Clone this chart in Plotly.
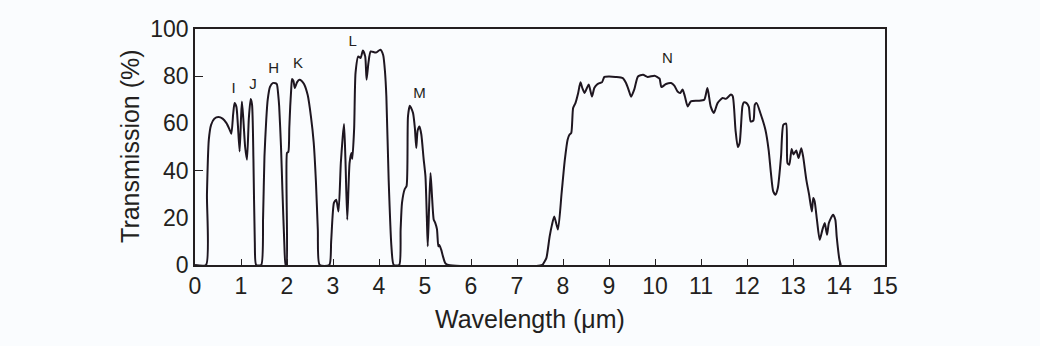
import plotly.graph_objects as go

# Atmospheric transmission spectrum (wavelength in micrometres, transmission in %)
wavelength = [
    0.00, 0.24, 0.26, 0.30, 0.35, 0.42, 0.51, 0.60, 0.68, 0.75, 0.79, 0.83, 0.86, 0.90, 0.93, 0.97,
    1.00, 1.02, 1.05, 1.09, 1.13, 1.17, 1.21, 1.24, 1.27, 1.30, 1.33, 1.44,
    1.48, 1.51, 1.55, 1.58, 1.63, 1.69, 1.75, 1.78, 1.81, 1.83, 1.87, 1.90, 1.94, 1.97,
    1.99, 2.00, 2.03, 2.05, 2.07, 2.09, 2.11, 2.14, 2.17, 2.22, 2.27, 2.32, 2.37, 2.45,
    2.52, 2.58, 2.63, 2.67, 2.71, 2.92,
    2.96, 3.02, 3.07, 3.12, 3.17, 3.21, 3.24, 3.27, 3.31, 3.36, 3.40, 3.42, 3.46, 3.49,
    3.55, 3.60, 3.65, 3.70, 3.73, 3.77, 3.82, 3.93, 4.03, 4.09, 4.13, 4.16, 4.21, 4.27, 4.32, 4.44,
    4.47, 4.50, 4.56, 4.60, 4.63, 4.67, 4.70, 4.74, 4.78, 4.81, 4.84, 4.88, 4.92, 4.97, 5.01, 5.04,
    5.06, 5.09, 5.12, 5.15, 5.19, 5.22, 5.26, 5.29, 5.31, 5.35, 5.40, 5.44, 5.51,
    7.55, 7.60, 7.64, 7.71, 7.76, 7.81, 7.89, 7.97, 8.04, 8.10, 8.14, 8.18, 8.22, 8.27, 8.33, 8.38,
    8.42, 8.47, 8.52, 8.56, 8.63, 8.68, 8.74, 8.80, 8.85, 8.90, 9.00, 9.14, 9.30, 9.37, 9.43, 9.48,
    9.55, 9.63, 9.74, 9.84, 9.99, 10.06, 10.10, 10.14, 10.24, 10.35, 10.42, 10.49, 10.55, 10.60,
    10.65, 10.71, 10.78, 10.93, 11.07, 11.14, 11.21, 11.28, 11.36, 11.47, 11.54, 11.65, 11.69,
    11.75, 11.80, 11.84, 11.90, 11.93, 11.99, 12.04, 12.08, 12.14, 12.17, 12.21, 12.29, 12.40,
    12.47, 12.52, 12.57, 12.62, 12.67, 12.74, 12.79, 12.85, 12.88, 12.92, 12.97, 13.01, 13.07,
    13.12, 13.18, 13.22, 13.29, 13.35, 13.41, 13.44, 13.47, 13.52, 13.58, 13.64, 13.69, 13.74,
    13.78, 13.87, 13.92, 13.95, 14.01, 14.04,
]
transmission = [
    0.0, 0.0, 30.0, 53.0, 59.4, 62.0, 62.7, 62.0, 60.2, 57.5, 55.6, 64.0, 68.6, 67.0, 60.0, 48.1,
    62.0, 69.3, 62.0, 50.0, 44.6, 62.0, 70.3, 68.0, 45.0, 10.0, 0.0, 0.0,
    20.0, 46.0, 62.0, 70.0, 75.5, 77.1, 77.0, 76.6, 72.0, 67.2, 50.0, 31.9, 10.0, 0.0,
    0.0, 47.5, 48.0, 58.0, 67.2, 74.0, 78.8, 78.0, 75.0, 77.5, 78.5, 78.0, 76.7, 72.0,
    63.0, 52.0, 34.8, 15.0, 0.0, 0.0,
    10.0, 26.3, 27.7, 22.7, 43.2, 54.0, 59.7, 45.0, 19.2, 43.2, 47.5, 45.0, 58.0, 81.4,
    88.4, 87.7, 90.9, 88.4, 78.5, 85.6, 90.5, 90.0, 91.2, 89.0, 82.0, 71.4, 36.1, 7.9, 0.0, 0.0,
    15.0, 26.3, 32.2, 33.5, 63.0, 67.5, 66.5, 64.4, 58.0, 49.6, 57.0, 58.7, 55.3, 45.0, 37.5, 20.0,
    7.9, 25.0, 39.0, 30.0, 19.2, 18.0, 15.2, 7.9, 8.5, 6.6, 3.0, 0.8, 0.0,
    0.0, 1.5, 3.0, 12.1, 17.0, 20.6, 15.0, 30.5, 44.6, 53.1, 55.2, 56.0, 66.5, 68.6, 72.9, 77.4,
    75.0, 72.9, 75.0, 76.5, 71.4, 75.0, 76.5, 77.1, 77.5, 79.7, 79.9, 79.7, 79.2, 77.1, 74.0, 71.3,
    74.4, 79.9, 80.6, 79.7, 80.2, 79.5, 79.0, 75.4, 76.7, 77.1, 76.0, 73.5, 72.9, 74.4,
    71.4, 67.2, 69.3, 69.6, 70.0, 75.0, 67.2, 64.4, 68.6, 70.8, 70.4, 72.2, 71.5,
    57.3, 50.0, 51.7, 67.2, 68.9, 68.6, 67.0, 60.8, 61.3, 67.9, 68.6, 64.4, 57.3,
    48.8, 39.0, 31.2, 29.8, 32.6, 46.0, 59.4, 59.9, 43.2, 42.5, 49.2, 46.8, 48.5,
    45.3, 49.5, 46.0, 36.1, 29.8, 22.7, 28.4, 27.0, 19.2, 10.7, 15.0, 17.8, 12.8,
    17.8, 21.3, 19.2, 12.0, 2.2, 0.0,
]

# Photometric band labels placed above their windows
band_names = ["I", "J", "H", "K", "L", "M", "N"]
band_x = [0.84, 1.26, 1.71, 2.24, 3.43, 4.88, 10.27]
band_y = [74.5, 76.0, 83.0, 85.0, 94.5, 72.5, 87.0]

x_ticks = list(range(0, 16))
y_ticks = [0, 20, 40, 60, 80, 100]

INK = "#231f20"
LINE = "#1e1620"
FONT = "Liberation Sans, Arial, Helvetica, sans-serif"

fig = go.Figure()
fig.add_trace(go.Scatter(
    x=wavelength, y=transmission, mode="lines",
    line=dict(color=LINE, width=2, shape="spline", smoothing=0.6),
    hoverinfo="skip", showlegend=False,
))
fig.add_trace(go.Scatter(
    x=band_x, y=band_y, mode="text", text=band_names,
    textfont=dict(family=FONT, size=15, color=INK),
    hoverinfo="skip", showlegend=False,
))

fig.update_layout(
    width=1040, height=346,
    margin=dict(l=195, r=155, t=29, b=81),
    paper_bgcolor="#fafcfe", plot_bgcolor="#fafcfe",
    font=dict(family=FONT, size=23, color=INK),
    xaxis=dict(
        range=[0, 15], tickvals=x_ticks, ticktext=[str(v) for v in x_ticks],
        ticks="inside", ticklen=6, tickwidth=1.2, tickcolor=INK,
        showline=True, mirror=True, linecolor=INK, linewidth=1.5,
        showgrid=False, zeroline=False, tickfont=dict(size=23),
    ),
    yaxis=dict(
        range=[0, 100], tickvals=y_ticks, ticktext=[str(v) for v in y_ticks],
        ticks="", showline=True, mirror=True, linecolor=INK, linewidth=1.5,
        showgrid=False, zeroline=False, tickfont=dict(size=23),
        minor=dict(tickvals=[40, 80], ticks="inside", ticklen=8, tickwidth=1.2, tickcolor=INK),
    ),
    annotations=[
        dict(text="Wavelength (\u03bcm)", xref="paper", yref="paper", x=0.485, y=-0.16,
             xanchor="center", yanchor="top", showarrow=False, font=dict(size=25, color=INK)),
        dict(text="Transmission (%)", xref="paper", yref="paper", x=-0.094, y=0.505,
             xanchor="center", yanchor="middle", textangle=-90, showarrow=False,
             font=dict(size=25, color=INK)),
    ],
)

fig.write_html("out.html")
